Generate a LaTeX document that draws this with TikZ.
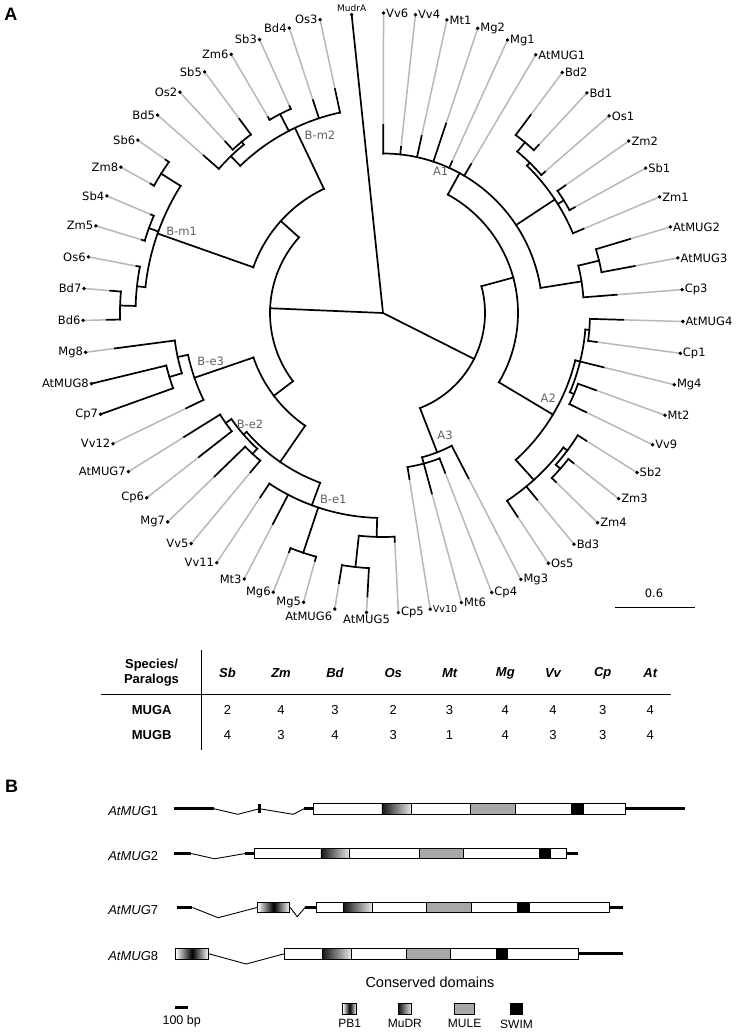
\documentclass[tikz,border=0pt]{standalone}
\usepackage{fontspec}
\setmainfont{Liberation Sans}
\newfontfamily\treefont{DejaVu Sans}
\usetikzlibrary{positioning}

\definecolor{extgray}{gray}{0.72}
\definecolor{cladegray}{gray}{0.38}
\definecolor{mulegray}{gray}{0.66}

\tikzset{
branch/.style={line width=1.7pt, line cap=rect},
ext/.style={line width=1.5pt, extgray},
leaflbl/.style={font=\treefont\fontsize{11.5}{13.8}\selectfont, inner sep=2.5pt},
cladelbl/.style={font=\treefont\fontsize{11.5}{13.8}\selectfont, text=cladegray, inner sep=0pt},
panellbl/.style={font=\bfseries\fontsize{18}{20}\selectfont},
tblhead/.style={font=\bfseries\fontsize{13}{15}\selectfont, align=center},
sphead/.style={font=\bfseries\itshape\fontsize{13}{15}\selectfont},
tblcell/.style={font=\fontsize{13}{15}\selectfont},
genelbl/.style={font=\fontsize{13}{15}\selectfont, anchor=east},
exon/.style={draw, fill=white, line width=0.9pt, minimum height=10.7, inner sep=0pt, anchor=west},
mudr/.style={exon, left color=black!92, right color=black!8},
mule/.style={exon, fill=mulegray},
swim/.style={exon, fill=black},
pbone/.style={exon, left color=white, right color=white, middle color=black},
utr/.style={line width=2.8pt},
intron/.style={line width=0.9pt},
leglbl/.style={font=\fontsize{12}{14}\selectfont, inner sep=0pt}
}

% leaf: index, parent radius, tip radius, label, label anchor
\newcommand{\treeleaf}[5]{%
\pgfmathsetmacro{\la}{96-(#1-1)*6.101695}
\draw[ext] (\la:#3) -- (\la:300);
\draw[branch] (\la:#2) -- (\la:#3);
\fill (\la:300) circle[radius=1.9];
\node[leaflbl, anchor=#5] (leaf#1) at (\la:300) {#4};
}

% clade: name, parent radius, radius, angle, arc from, arc to
\newcommand{\treeclade}[6]{%
\coordinate (#1) at (#4:#3);
\draw[branch] (#4:#2) -- (#4:#3);
\draw[branch] (#5:#3) arc[start angle=#5, end angle=#6, radius=#3];
}

\begin{document}
\begin{tikzpicture}[x=1pt, y=1pt]

\useasboundingbox (0,0) rectangle (740,-1035);
\fill[white] (0,0) rectangle (740,-1035);

%%%%%%%%%%%%%%%%%%%%%%%%%%%%%%%%%%%%%%%%%%%%%%%%%%%%%%%%%%%%%%
% PANEL A : CIRCULAR TREE
%%%%%%%%%%%%%%%%%%%%%%%%%%%%%%%%%%%%%%%%%%%%%%%%%%%%%%%%%%%%%%

\node[panellbl] (labA) at (10.8,-14.5) {A};

\begin{scope}[shift={(383,-313)}]

\coordinate (root) at (0,0);

% MUGA side
\treeclade{nA}{0}{102}{-26.77}{-68.75}{15.22}
\treeclade{nAa}{102}{135}{15.22}{-30.87}{61.30}
\treeclade{nA1}{135}{159.5}{61.30}{9.05}{89.90}
\treeclade{nA1g}{159.5}{206}{33.46}{22.78}{45.66}
\treeclade{nN1}{206}{210}{45.66}{41.08}{50.24}
\treeclade{nN3}{210}{222}{50.24}{47.19}{53.29}
\treeclade{nN2}{206}{213}{31.93}{28.88}{34.98}
\treeclade{nA1c}{159.5}{201}{9.05}{4.47}{13.63}
\treeclade{nAp}{201}{222.3}{13.63}{10.58}{16.68}
\treeclade{nA2}{135}{198}{-30.87}{-47.9}{-13.83}
\treeclade{nDn}{198}{203}{-13.83}{-22.98}{-4.68}
\treeclade{nDa}{203}{207}{-4.68}{-7.73}{-1.63}
\treeclade{nDb}{203}{207.5}{-22.98}{-26.03}{-19.93}
\treeclade{nMn}{198}{225}{-47.9}{-56.54}{-36.72}
\treeclade{nMm}{225}{230}{-36.72}{-41.29}{-32.14}
\treeclade{nMq}{230}{236}{-41.29}{-44.34}{-38.24}
\treeclade{nA3}{102}{149.5}{-68.75}{-74.85}{-62.64}
\treeclade{nA3b}{149.5}{156}{-74.85}{-80.95}{-68.75}

% MUGB side
\treeclade{nB}{0}{113}{-182.41}{-221.99}{-142.83}
\treeclade{nBe}{113}{137}{-142.83}{-161.04}{-124.62}
\treeclade{nBe3}{137}{199.4}{-161.04}{-167.9}{-154.17}
\treeclade{nR1}{199.4}{210}{-167.9}{-172.47}{-163.32}
\treeclade{nR2}{210}{223}{-163.32}{-166.37}{-160.27}
\treeclade{nBep}{137}{181}{-124.62}{-138.92}{-110.32}
\treeclade{nBe2}{181}{185}{-138.92}{-145.02}{-132.81}
\treeclade{nT1}{185}{192}{-145.02}{-148.07}{-141.97}
\treeclade{nT2}{185}{192}{-132.81}{-135.86}{-129.76}
\treeclade{nBe1}{181}{205}{-110.32}{-123.66}{-91.63}
\treeclade{nS1}{205}{252.7}{-108.41}{-111.46}{-105.36}
\treeclade{nS2}{205}{224}{-91.63}{-96.2}{-87.05}
\treeclade{nS3}{224}{255.5}{-96.2}{-99.25}{-93.15}
\treeclade{nBm}{113}{137.5}{-221.99}{-244.55}{-199.42}
\treeclade{nBm1}{137.5}{239}{-199.42}{-212.13}{-186.2}
\treeclade{nQ1}{239}{262}{-212.13}{-215.19}{-209.08}
\treeclade{nQ2}{239}{249}{-199.93}{-202.98}{-196.88}
\treeclade{nQ4}{239}{247.5}{-186.2}{-190.78}{-181.63}
\treeclade{nQ3}{247.5}{263}{-181.63}{-184.68}{-178.58}
\treeclade{nBm2}{137.5}{205}{-244.55}{-257.90}{-225.87}
\treeclade{nX}{205}{218.5}{-225.87}{-230.44}{-221.29}
\treeclade{nY}{218.5}{222}{-230.44}{-233.49}{-227.39}
\treeclade{nP}{205}{224}{-242.64}{-245.69}{-239.59}

% leaves
\treeleaf{1}{0}{300}{\fontsize{9}{10}\selectfont MudrA}{south}
\treeleaf{2}{159.5}{188}{Vv6}{west}
\treeleaf{3}{159.5}{167}{Vv4}{west}
\treeleaf{4}{159.5}{181}{Mt1}{west}
\treeleaf{5}{159.5}{199.6}{Mg2}{west}
\treeleaf{6}{159.5}{166.6}{Mg1}{west}
\treeleaf{7}{159.5}{173}{AtMUG1}{west}
\treeleaf{8}{222}{247}{Bd2}{west}
\treeleaf{9}{222}{229}{Bd1}{west}
\treeleaf{10}{210}{215}{Os1}{west}
\treeleaf{11}{213}{222.5}{Zm2}{west}
\treeleaf{12}{213}{219}{Sb1}{west}
\treeleaf{13}{206}{217.5}{Zm1}{west}
\treeleaf{14}{222.3}{258}{AtMUG2}{west}
\treeleaf{15}{222.3}{256}{AtMUG3}{west}
\treeleaf{16}{201}{234.4}{Cp3}{west}
\treeleaf{17}{207}{240.4}{AtMUG4}{west}
\treeleaf{18}{207}{215.7}{Cp1}{west}
\treeleaf{19}{203}{227.2}{Mg4}{west}
\treeleaf{20}{207.5}{226.5}{Mt2}{west}
\treeleaf{21}{207.5}{226}{Vv9}{west}
\treeleaf{22}{230}{240}{Sb2}{west}
\treeleaf{23}{236}{242.5}{Zm3}{west}
\treeleaf{24}{236}{241.6}{Zm4}{west}
\treeleaf{25}{225}{242}{Bd3}{west}
\treeleaf{26}{225}{244.2}{Os5}{west}
\treeleaf{27}{149.5}{186}{Mg3}{west}
\treeleaf{28}{156}{171.3}{Cp4}{west}
\treeleaf{29}{156}{186.8}{Mt6}{west}
\treeleaf{30}{156}{168}{\fontsize{9.5}{10}\selectfont Vv10}{west}
\treeleaf{31}{224}{229}{Cp5}{west}
\treeleaf{32}{255.5}{284}{AtMUG5}{north}
\treeleaf{33}{255.5}{273.7}{AtMUG6}{north east}
\treeleaf{34}{252.7}{257}{Mg5}{east}
\treeleaf{35}{252.7}{257}{Mg6}{east}
\treeleaf{36}{205}{238}{Mt3}{east}
\treeleaf{37}{205}{221.5}{Vv11}{east}
\treeleaf{38}{192}{207.2}{Vv5}{east}
\treeleaf{39}{192}{234.6}{Mg7}{east}
\treeleaf{40}{192}{233.7}{Cp6}{east}
\treeleaf{41}{192}{234.3}{AtMUG7}{east}
\treeleaf{42}{199.4}{218.6}{Vv12}{east}
\treeleaf{43}{223}{300}{Cp7}{east}
\treeleaf{44}{223}{300}{AtMUG8}{east}
\treeleaf{45}{210}{270.5}{Mg8}{east}
\treeleaf{46}{263}{276.4}{Bd6}{east}
\treeleaf{47}{263}{273.8}{Bd7}{east}
\treeleaf{48}{247.5}{251}{Os6}{east}
\treeleaf{49}{249}{252}{Zm5}{east}
\treeleaf{50}{249}{252}{Sb4}{east}
\treeleaf{51}{262}{266}{Zm8}{east}
\treeleaf{52}{262}{266}{Sb6}{east}
\treeleaf{53}{218.5}{238.6}{Bd5}{east}
\treeleaf{54}{222}{233}{Os2}{east}
\treeleaf{55}{222}{241.5}{Sb5}{east}
\treeleaf{56}{224}{227}{Zm6}{east}
\treeleaf{57}{224}{227}{Sb3}{east}
\treeleaf{58}{205}{224}{Bd4}{east}
\treeleaf{59}{205}{229}{Os3}{east}

% clade names
\node[cladelbl] (cA1) at (57.7,141.3) {A1};
\node[cladelbl] (cA2) at (165.3,-85.3) {A2};
\node[cladelbl] (cA3) at (62,-122) {A3};
\node[cladelbl] (cBm1) at (-201.3,81.3) {B-m1};
\node[cladelbl] (cBm2) at (-63,178) {B-m2};
\node[cladelbl] (cBe1) at (-49.7,-186.3) {B-e1};
\node[cladelbl] (cBe2) at (-133,-111.3) {B-e2};
\node[cladelbl] (cBe3) at (-172.3,-48) {B-e3};

\end{scope}

% scale bar
\coordinate (sbleft) at (615,-607.3);
\coordinate (sbright) at (695,-607.3);
\draw[line width=1.3pt] (sbleft) -- (sbright);
\node[leaflbl] (sblbl) at (654,-593.3) {0.6};

%%%%%%%%%%%%%%%%%%%%%%%%%%%%%%%%%%%%%%%%%%%%%%%%%%%%%%%%%%%%%%
% PARALOG TABLE
%%%%%%%%%%%%%%%%%%%%%%%%%%%%%%%%%%%%%%%%%%%%%%%%%%%%%%%%%%%%%%

\node[tblhead] (spec) at (151.5,-673) {Species/\\Paralogs};

\node[sphead] (hSb) at (227.5,-673.3) {Sb};
\node[sphead] (hZm) at (281,-673.3) {Zm};
\node[sphead] (hBd) at (335,-673.3) {Bd};
\node[sphead] (hOs) at (393.2,-673.3) {Os};
\node[sphead] (hMt) at (449.6,-673.3) {Mt};
\node[sphead] (hMg) at (505.3,-673.3) {Mg};
\node[sphead] (hVv) at (553,-673.3) {Vv};
\node[sphead] (hCp) at (602.7,-673.3) {Cp};
\node[sphead] (hAt) at (650.3,-673.3) {At};

\node[tblhead] (rowA) at (151.7,-710) {MUGA};
\node[tblhead] (rowB) at (151.7,-735.5) {MUGB};

\node[tblcell] (aSb) at (hSb |- rowA) {2};
\node[tblcell] (aZm) at (hZm |- rowA) {4};
\node[tblcell] (aBd) at (hBd |- rowA) {3};
\node[tblcell] (aOs) at (hOs |- rowA) {2};
\node[tblcell] (aMt) at (hMt |- rowA) {3};
\node[tblcell] (aMg) at (hMg |- rowA) {4};
\node[tblcell] (aVv) at (hVv |- rowA) {4};
\node[tblcell] (aCp) at (hCp |- rowA) {3};
\node[tblcell] (aAt) at (hAt |- rowA) {4};

\node[tblcell] (bSb) at (hSb |- rowB) {4};
\node[tblcell] (bZm) at (hZm |- rowB) {3};
\node[tblcell] (bBd) at (hBd |- rowB) {4};
\node[tblcell] (bOs) at (hOs |- rowB) {3};
\node[tblcell] (bMt) at (hMt |- rowB) {1};
\node[tblcell] (bMg) at (hMg |- rowB) {4};
\node[tblcell] (bVv) at (hVv |- rowB) {3};
\node[tblcell] (bCp) at (hCp |- rowB) {3};
\node[tblcell] (bAt) at (hAt |- rowB) {4};

\draw[line width=1.3pt] (100.7,-694.3) -- (671,-694.3);
\draw[line width=1.3pt] (201.7,-650) -- (201.7,-750);

%%%%%%%%%%%%%%%%%%%%%%%%%%%%%%%%%%%%%%%%%%%%%%%%%%%%%%%%%%%%%%
% PANEL B : GENE STRUCTURES
%%%%%%%%%%%%%%%%%%%%%%%%%%%%%%%%%%%%%%%%%%%%%%%%%%%%%%%%%%%%%%

\node[panellbl] (labB) at (11.7,-786.7) {B};

% AtMUG1
\node[genelbl] (g1lbl) at (161.7,-811) {\textit{AtMUG}1};
\node[exon, minimum width=311.2] (g1box) at (313.3,-808.7) {};
\node[mudr, minimum width=29.8] (g1mudr) at ([xshift=68.2]g1box.west) {};
\node[mule, minimum width=44.8] (g1mule) at ([xshift=156.9]g1box.west) {};
\node[swim, minimum width=11.8] (g1swim) at ([xshift=257.4]g1box.west) {};
\draw[utr] (174.4,-808.7) -- (213.9,-808.7);
\draw[intron] (213.9,-808.7) -- (237.9,-814.3) -- (259.5,-808.7) -- (292.9,-814.3) -- (304.3,-808.7);
\draw[line width=2.2pt] (259.5,-804.3) -- (259.5,-813.3);
\draw[utr] (304.3,-808.7) -- (g1box.west);
\draw[utr] (g1box.east) -- (684.8,-808.7);

% AtMUG2
\node[genelbl] (g2lbl) at (161.7,-856.5) {\textit{AtMUG}2};
\node[exon, minimum width=311.5] (g2box) at (254.1,-853.5) {};
\node[mudr, minimum width=28.7] (g2mudr) at ([xshift=66.4]g2box.west) {};
\node[mule, minimum width=44.9] (g2mule) at ([xshift=164.4]g2box.west) {};
\node[swim, minimum width=10.8] (g2swim) at ([xshift=285.3]g2box.west) {};
\draw[utr] (174.4,-853.5) -- (191.3,-853.5);
\draw[intron] (191.3,-853.5) -- (214.6,-858.8) -- (245.1,-853.5);
\draw[utr] (245.1,-853.5) -- (g2box.west);
\draw[utr] (g2box.east) -- (577.9,-853.5);

% AtMUG7
\node[genelbl] (g7lbl) at (161.7,-910.5) {\textit{AtMUG}7};
\node[pbone, minimum width=32.3] (g7pb) at (257,-907.5) {};
\node[exon, minimum width=293.6] (g7box) at (315.8,-907.5) {};
\node[mudr, minimum width=29.1] (g7mudr) at ([xshift=26.9]g7box.west) {};
\node[mule, minimum width=44.1] (g7mule) at ([xshift=110.6]g7box.west) {};
\node[swim, minimum width=11.9] (g7swim) at ([xshift=201]g7box.west) {};
\draw[utr] (176.9,-907.5) -- (192.4,-907.5);
\draw[intron] (192.4,-907.5) -- (218.2,-917.7) -- (g7pb.west);
\draw[intron] (g7pb.east) -- (297.2,-916.7) -- (305.1,-907.5);
\draw[utr] (305.1,-907.5) -- (g7box.west);
\draw[utr] (g7box.east) -- (623.1,-907.5);

% AtMUG8
\node[genelbl] (g8lbl) at (161.7,-955.8) {\textit{AtMUG}8};
\node[pbone, minimum width=33] (g8pb) at (175.1,-953.8) {};
\node[exon, minimum width=293.7] (g8box) at (284.2,-953.8) {};
\node[mudr, minimum width=29.4] (g8mudr) at ([xshift=37.4]g8box.west) {};
\node[mule, minimum width=44.1] (g8mule) at ([xshift=121.4]g8box.west) {};
\node[swim, minimum width=11.4] (g8swim) at ([xshift=211.5]g8box.west) {};
\draw[intron] (g8pb.east) -- (246.2,-964) -- (g8box.west);
\draw[utr] (g8box.east) -- (623.1,-953.8);

%%%%%%%%%%%%%%%%%%%%%%%%%%%%%%%%%%%%%%%%%%%%%%%%%%%%%%%%%%%%%%
% LEGEND
%%%%%%%%%%%%%%%%%%%%%%%%%%%%%%%%%%%%%%%%%%%%%%%%%%%%%%%%%%%%%%

\node[font=\fontsize{14.5}{17}\selectfont] (consdom) at (430,-982.7) {Conserved domains};

\node[pbone, anchor=center, minimum width=13.6] (legpb) at (349.6,-1008.7) {};
\node[mudr, anchor=center, minimum width=12.9] (legmudr) at (404.9,-1008.7) {};
\node[mule, anchor=center, minimum width=20.4] (legmule) at (464.6,-1008.7) {};
\node[swim, anchor=center, minimum width=11.5] (legswim) at (516.5,-1008.7) {};

\node[leglbl, below=5pt of legpb] (legpblbl) {PB1};
\node[leglbl, below=5pt of legmudr] (legmudrlbl) {MuDR};
\node[leglbl, below=5pt of legmule] (legmulelbl) {MULE};
\node[leglbl, below=5pt of legswim] (legswimlbl) {SWIM};

\coordinate (bpleft) at (175,-1007.3);
\coordinate (bpright) at (188.3,-1007.3);
\draw[utr] (bpleft) -- (bpright);
\node[font=\fontsize{12.5}{14}\selectfont] (bplbl) at (181.7,-1021.7) {100 bp};

\end{tikzpicture}
\end{document}
